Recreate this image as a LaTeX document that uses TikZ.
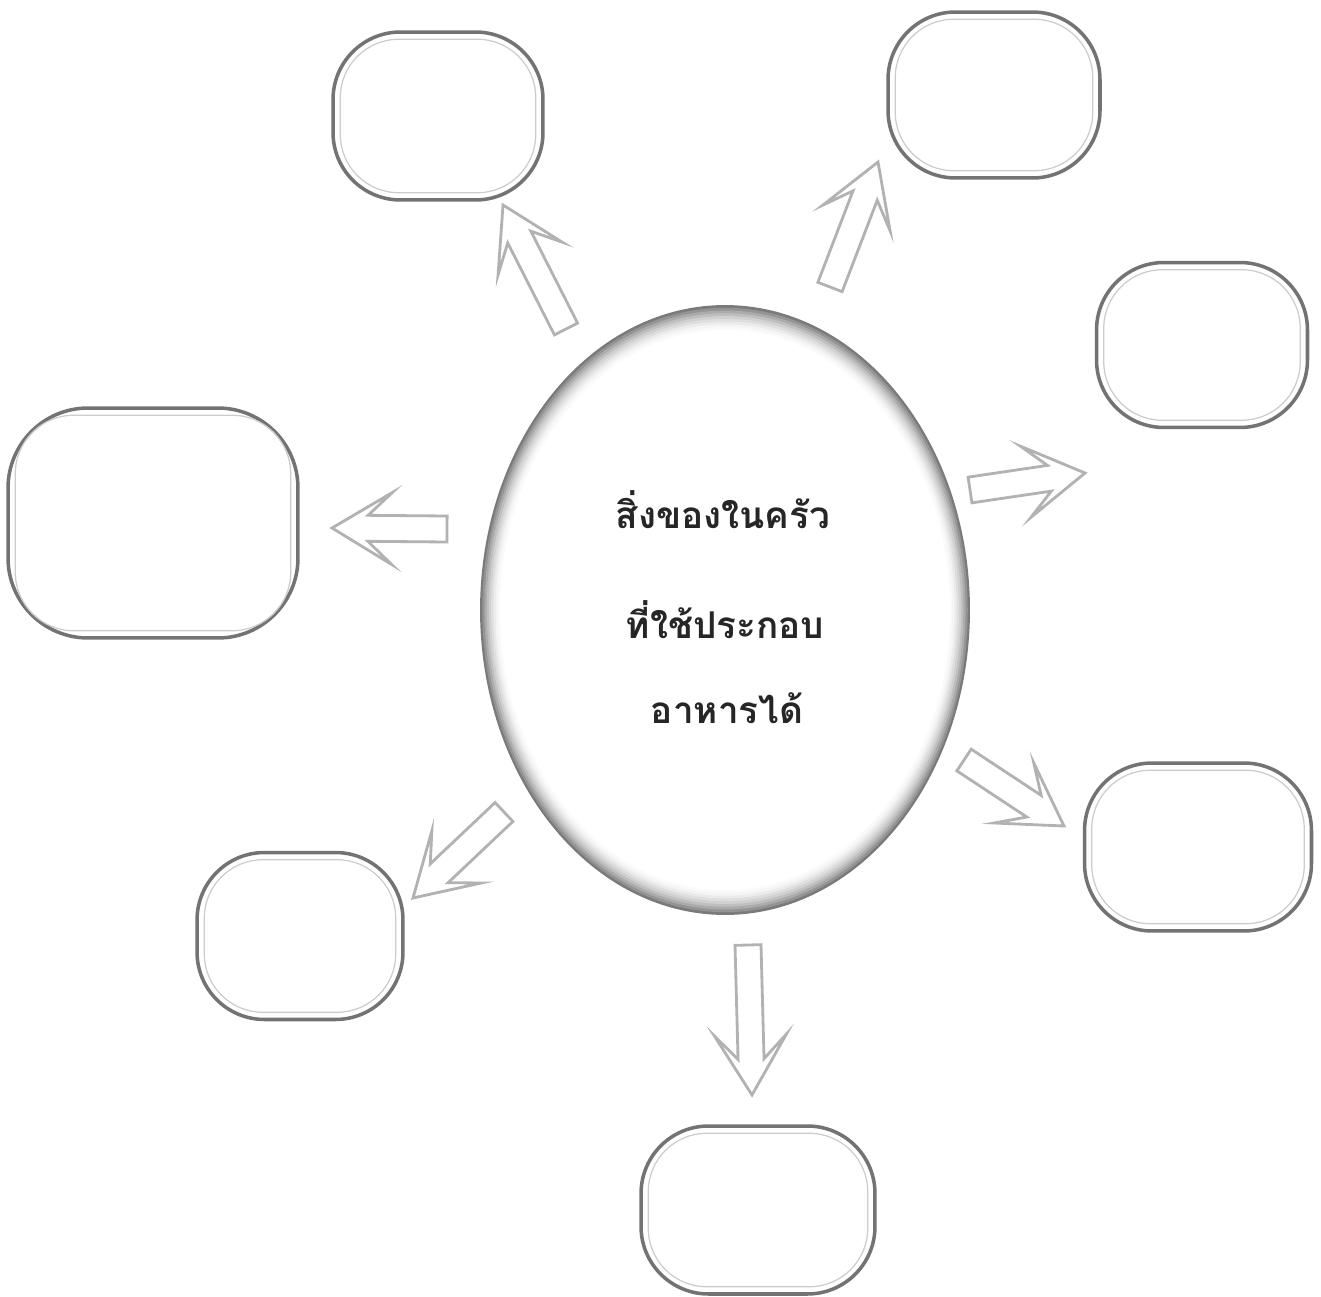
\documentclass[tikz,border=0pt]{standalone}
\usepackage{fontspec}
\newfontfamily\thaifont[Script=Thai]{Loma}
\usepackage{tikz}
\usetikzlibrary{arrows.meta, shapes.geometric, positioning, calc}

% Flèche pleine de #1 vers #2
\newcommand{\fleche}[2]{%
  \coordinate (fj) at ($(#2)!0.72cm!(#1)$);
  \coordinate (fb) at ($(#2)!1.2cm!(#1)$);
  \draw[flecheb] ($(#1)!0.26cm!90:(#2)$) -- ($(fj)!0.26cm!90:(#2)$)
      -- ($(fb)!0.72cm!90:(#2)$) -- (#2) -- ($(fb)!0.72cm!-90:(#2)$)
      -- ($(fj)!0.26cm!-90:(#2)$) -- ($(#1)!0.26cm!-90:(#2)$) -- cycle;
}

\begin{document}
\begin{tikzpicture}[x=0.02cm, y=-0.02cm,
  boite/.style={draw=black!55, line width=2pt, rounded corners=1.35cm, fill=white},
  ligne/.style={draw=gray!40, line width=0.7pt, rounded corners=1.17cm},
  flecheb/.style={draw=gray!60, line width=1.6pt, fill=white},
  titre/.style={font=\thaifont\bfseries\fontsize{21}{25}\selectfont, text=black!85, anchor=base}]
  \useasboundingbox (0,0) rectangle (1321,1297);

  % Bulle centrale (bord estompé)
  \node[ellipse, minimum width=9.8cm, minimum height=12.2cm, inner sep=0pt] (oeuf) at (725,610) {};
  \foreach \k in {0,...,10} {
    \pgfmathtruncatemacro\c{52*(1-\k/10)^2}
    \pgfmathsetmacro\s{1-0.009*\k}
    \fill[black!\c!white] (oeuf.center) ellipse [x radius=\s*4.9cm, y radius=\s*6.1cm];
  }
  \node[titre] (l1) at (723,528) {สิ่งของในครัว};
  \node[titre] (l2) at (725,638) {ที่ใช้ประกอบ};
  \node[titre] (l3) at (727,723) {อาหารได้};

  % Cadres vides
  \node[boite, minimum width=4.2cm, minimum height=3.36cm] (hg) at (438,116) {};
  \node[boite, minimum width=4.24cm, minimum height=3.32cm] (hd) at (994,95) {};
  \node[boite, minimum width=4.22cm, minimum height=3.3cm] (d) at (1202,345) {};
  \node[boite, minimum width=5.8cm, minimum height=4.6cm, rounded corners=1.6cm] (g) at (153,523) {};
  \node[boite, minimum width=4.54cm, minimum height=3.36cm] (bd) at (1198,847) {};
  \node[boite, minimum width=4.12cm, minimum height=3.34cm] (bg) at (300,936) {};
  \node[boite, minimum width=4.68cm, minimum height=3.36cm] (b) at (758,1210) {};
  \foreach \n in {hg, hd, d, g, bd, bg, b}
    \draw[ligne] ([shift={(9,9)}]\n.north west) rectangle ([shift={(-9,-9)}]\n.south east);

  % Flèches
  \foreach \xa/\ya/\xb/\yb in {566/329/503/205, 830/287/878/162, 970/490/1085/473,
      447/529/332/528, 964/760/1064/826, 504/812/413/898, 748/945/752/1095} {
    \coordinate (qa) at (\xa,\ya);
    \coordinate (qb) at (\xb,\yb);
    \fleche{qa}{qb}
  }
\end{tikzpicture}
\end{document}
